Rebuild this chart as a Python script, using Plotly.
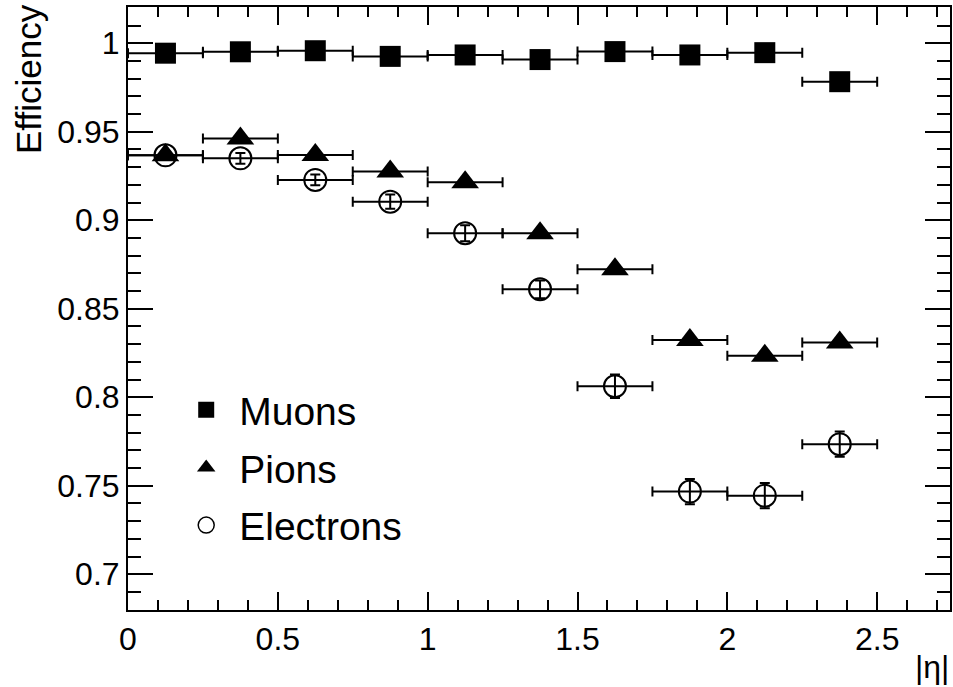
import plotly.graph_objects as go

# ---- data ----
eta_centers = [0.125, 0.375, 0.625, 0.875, 1.125, 1.375, 1.625, 1.875, 2.125, 2.375]
eta_halfwidth = [0.125] * 10

muon_eff = [0.9944, 0.9952, 0.9958, 0.9926, 0.9934, 0.9908, 0.9953, 0.9934, 0.9947, 0.9783]
pion_eff = [0.9367, 0.9462, 0.9369, 0.9275, 0.9215, 0.8927, 0.8723, 0.8324, 0.8235, 0.8309]
elec_eff = [0.9367, 0.9350, 0.9228, 0.9105, 0.8927, 0.8610, 0.8062, 0.7467, 0.7444, 0.7735]
elec_err = [0.002, 0.003, 0.003, 0.004, 0.0045, 0.005, 0.0066, 0.0071, 0.0071, 0.0071]

y_tickvals = [0.7, 0.75, 0.8, 0.85, 0.9, 0.95, 1.0]
y_ticktext = ["0.7", "0.75", "0.8", "0.85", "0.9", "0.95", "1"]
x_tickvals = [0, 0.5, 1, 1.5, 2, 2.5]
x_ticktext = ["0", "0.5", "1", "1.5", "2", "2.5"]

series = [
    ("Muons", muon_eff, None, "square", 21),
    ("Pions", pion_eff, None, "triangle-up", 24),
    ("Electrons", elec_eff, elec_err, "circle-open", 22),
]

FONT = "Liberation Sans, Arial, sans-serif"
fig = go.Figure()

for i, (name, vals, yerr, sym, size) in enumerate(series):
    ex = dict(type="data", array=eta_halfwidth, visible=True, color="black",
              thickness=2, width=5)
    ey = dict(type="data", array=yerr, visible=True, color="black",
              thickness=2, width=5) if yerr else dict(visible=False)
    fig.add_trace(go.Scatter(
        x=eta_centers, y=vals, mode="markers", name=name,
        marker=dict(symbol=sym, size=size, color="black",
                    line=dict(color="black", width=2 if sym == "circle-open" else 0)),
        error_x=ex, error_y=ey, showlegend=False, cliponaxis=False,
    ))

# legend-only entries
for i, (name, vals, yerr, sym, size) in enumerate(series):
    fig.add_trace(go.Scatter(
        x=[None], y=[None], mode="markers", name=name, legendgroup=name,
        marker=dict(symbol=sym, size=16, color="black",
                    line=dict(color="black", width=1.5 if sym == "circle-open" else 0)),
        showlegend=True,
    ))

axis_common = dict(
    showline=True, linecolor="black", linewidth=2, mirror="allticks",
    ticks="inside", tickwidth=2, tickcolor="black",
    showgrid=False, zeroline=False,
    tickfont=dict(family=FONT, size=32, color="black"),
)

fig.update_xaxes(
    range=[0, 2.743], tickvals=x_tickvals, ticktext=x_ticktext, ticklen=18,
    minor=dict(dtick=0.1, tick0=0, ticks="inside", ticklen=10, tickwidth=2,
               tickcolor="black", showgrid=False),
    **axis_common,
)
fig.update_yaxes(
    range=[0.6798, 1.0205], tickvals=y_tickvals, ticktext=y_ticktext, ticklen=25,
    minor=dict(dtick=0.01, tick0=0.7, ticks="inside", ticklen=13, tickwidth=2,
               tickcolor="black", showgrid=False),
    **axis_common,
)

fig.add_annotation(text="Efficiency", textangle=-90, xref="paper", yref="paper",
                   x=0, xshift=-100, y=1, yshift=5, xanchor="center", yanchor="top",
                   showarrow=False, font=dict(family=FONT, size=35, color="black"))
fig.add_annotation(text="|η|", xref="paper", yref="paper",
                   x=1, xshift=1, y=0, yshift=-37, xanchor="right", yanchor="top",
                   showarrow=False, font=dict(family=FONT, size=32, color="black"))

fig.update_layout(
    width=953, height=687,
    margin=dict(l=128, r=1, t=7, b=77),
    paper_bgcolor="white", plot_bgcolor="white",
    legend=dict(x=0.055, y=0.385, xanchor="left", yanchor="top",
                bgcolor="rgba(0,0,0,0)", borderwidth=0,
                font=dict(family=FONT, size=39, color="black"),
                tracegroupgap=4, itemwidth=56),
    showlegend=True,
)

fig.write_html("out.html")
